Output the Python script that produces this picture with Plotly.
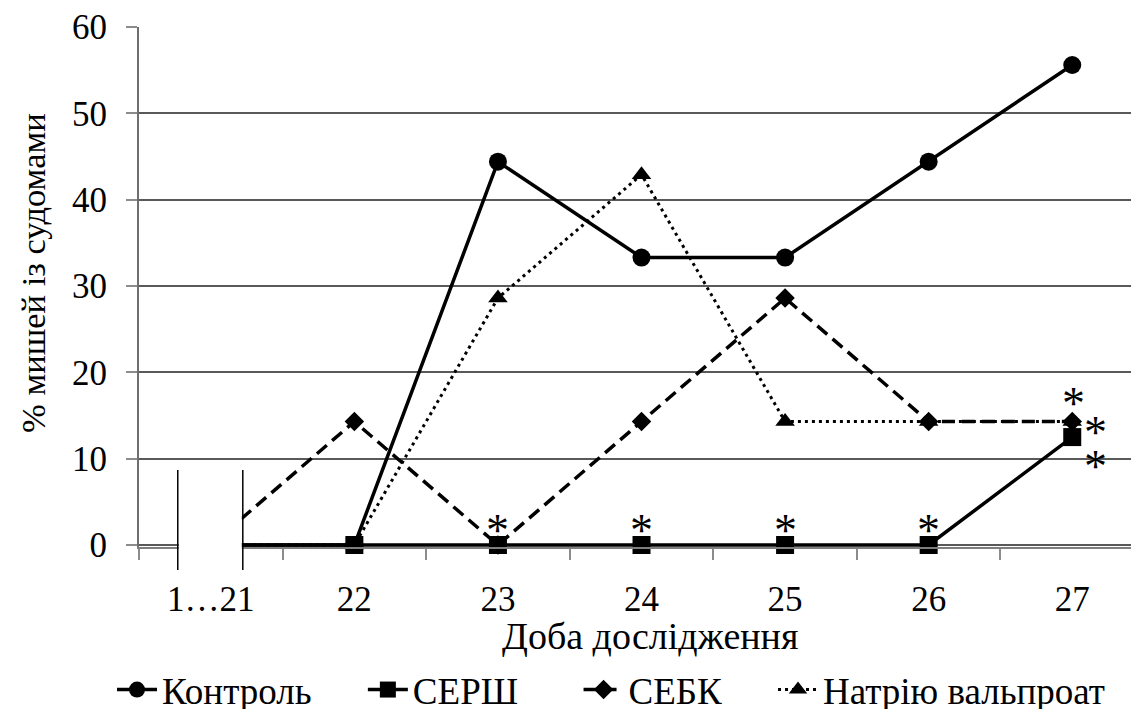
import plotly.graph_objects as go

categories = ["1…21", "22", "23", "24", "25", "26", "27"]
kontrol = [0, 0, 44.4, 33.3, 33.3, 44.4, 55.6]
sersh = [0, 0, 0, 0, 0, 0, 12.5]
sebk = [0, 14.3, 0, 14.3, 28.6, 14.3, 14.3]
valproat = [0, 0, 28.6, 42.9, 14.3, 14.3, 14.3]
y_ticks = [0, 10, 20, 30, 40, 50, 60]
series_names = ["Контроль", "СЕРШ", "СЕБК", "Натрію вальпроат"]

FONT = "Liberation Serif"
NB = "\u00a0"  # spacing between legend entries

fig = go.Figure()
fig.add_trace(go.Scatter(x=categories, y=kontrol, name=series_names[0] + NB * 5, mode="lines+markers",
                         line=dict(color="black", width=3.5),
                         marker=dict(symbol="circle", size=18, color="black"), cliponaxis=False))
fig.add_trace(go.Scatter(x=categories, y=sersh, name=series_names[1] + NB * 6, mode="lines+markers",
                         line=dict(color="black", width=3.5),
                         marker=dict(symbol="square", size=18, color="black"), cliponaxis=False))
fig.add_trace(go.Scatter(x=categories, y=sebk, name=series_names[2] + NB * 5, mode="lines+markers",
                         line=dict(color="black", width=3.5, dash="13px,7px"),
                         marker=dict(symbol="diamond", size=15, color="black"), cliponaxis=False))
fig.add_trace(go.Scatter(x=categories, y=valproat, name=series_names[3], mode="lines+markers",
                         line=dict(color="black", width=3, dash="3px,4px"),
                         marker=dict(symbol="triangle-up", size=17, color="black"), cliponaxis=False))

stars = [("23", 0, 0, 23), ("24", 0, 0, 23), ("25", 0, 0, 23), ("26", 0, 0, 23),
         ("27", 14.3, 1, 26), ("27", 14.3, 23, -3), ("27", 12.5, 23, -21)]
annotations = []
for cx, cy, dx, dy in stars:
    annotations.append(dict(x=categories.index(cx), y=cy, xref="x", yref="y", text="*", showarrow=False,
                            xshift=dx, yshift=dy - 8, font=dict(family=FONT, size=46, color="black"),
                            xanchor="center", yanchor="middle"))
annotations.append(dict(x=0.511, y=-0.171, xref="paper", yref="paper", text="Доба дослідження",
                        showarrow=False, font=dict(family=FONT, size=38, color="black"),
                        xanchor="center", yanchor="middle"))
annotations.append(dict(x=-0.106, y=0.527, xref="paper", yref="paper", text="% мишей із судомами",
                        showarrow=False, textangle=-90, font=dict(family=FONT, size=34.5, color="black"),
                        xanchor="center", yanchor="middle"))

shapes = [
    dict(type="rect", xref="x", yref="paper", x0=-0.223, x1=0.216, y0=-0.044, y1=0.148,
         fillcolor="white", line=dict(width=0), layer="above"),
    dict(type="line", xref="x", yref="paper", x0=-0.23, x1=-0.23, y0=-0.044, y1=0.148,
         line=dict(color="black", width=1.5), layer="above"),
    dict(type="line", xref="x", yref="paper", x0=0.223, x1=0.223, y0=-0.044, y1=0.148,
         line=dict(color="black", width=1.5), layer="above"),
]

# page body has an 8px margin, so the figure is offset by (8, 8)
fig.update_layout(
    width=1131, height=701,
    margin=dict(l=131, r=0, t=19, b=162, autoexpand=False),
    plot_bgcolor="white", paper_bgcolor="white",
    font=dict(family=FONT, size=35, color="black"),
    annotations=annotations, shapes=shapes,
    showlegend=True,
    legend=dict(orientation="h", xref="paper", yref="paper", x=-0.027, y=-0.275,
                xanchor="left", yanchor="middle", font=dict(family=FONT, size=37, color="black"),
                itemwidth=40, bgcolor="rgba(0,0,0,0)"),
)
fig.update_xaxes(type="category", range=[-0.5, 6.465], tickson="boundaries", ticks="outside",
                 ticklen=11, tickcolor="#8c8c8c", tickwidth=1.5, showline=True, linecolor="#7f7f7f",
                 linewidth=2, showgrid=False, tickfont=dict(family=FONT, size=35, color="black"),
                 ticklabelstandoff=20, fixedrange=True)
fig.update_yaxes(range=[-0.23, 60], tickvals=y_ticks, ticks="outside", ticklen=11, tickcolor="#8c8c8c",
                 tickwidth=1.5, showline=True, linecolor="#6e6e6e", linewidth=2, showgrid=True,
                 gridcolor="#595959", gridwidth=1.5, zeroline=False,
                 tickfont=dict(family=FONT, size=35, color="black"), ticklabelstandoff=12,
                 fixedrange=True)

fig.write_html("out.html")
